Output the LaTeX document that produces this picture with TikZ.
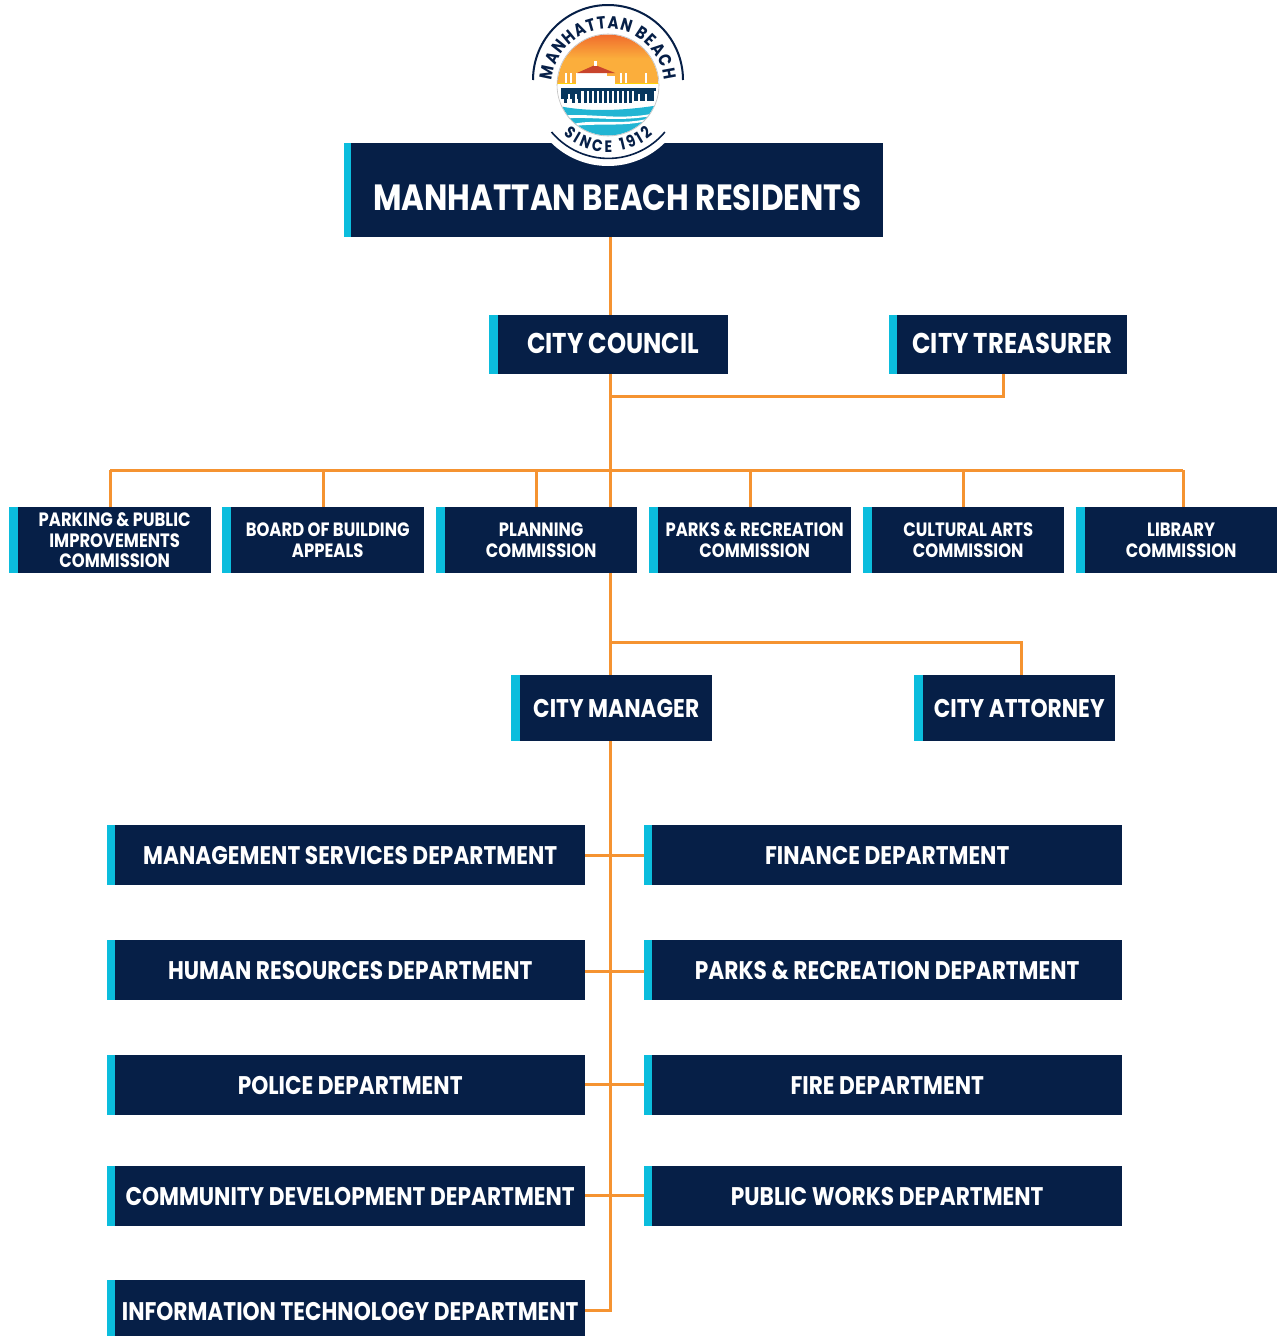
\documentclass[tikz,border=0pt]{standalone}
\usepackage{fontspec}
\usetikzlibrary{decorations.text}
\setmainfont[FakeStretch=0.85]{Poppins}
\definecolor{navy}{HTML}{061F47}
\definecolor{stripe}{HTML}{0BBDDD}
\definecolor{wire}{HTML}{F59331}
\definecolor{sunA}{HTML}{F0682C}
\definecolor{sunB}{HTML}{FBAE3C}
\definecolor{roof}{HTML}{C8442C}
\definecolor{sea}{HTML}{22B5D3}
\newcommand{\fs}[1]{\fontsize{#1}{#1}\selectfont\bfseries}
\newcommand{\dn}[2]{\raisebox{#1pt}{#2}}
\tikzset{
  orgbox/.style={fill=navy,text=white,inner sep=0pt,anchor=north west,align=center},
  xl/.style={font=\fontsize{36.5}{36.5}\selectfont\bfseries},
  lg/.style={font=\fontsize{28.6}{28.6}\selectfont\bfseries},
  md/.style={font=\fontsize{25.6}{25.6}\selectfont\bfseries},
  dp/.style={font=\fontsize{25.5}{25.5}\selectfont\bfseries},
  sm/.style={font=\fontsize{19.3}{20.5}\selectfont\bfseries},
  wirepath/.style={draw=wire,line width=3pt},
}
% name, x0 (stripe), navy x, y0, x1, y1, style, text
\newcommand{\org}[8]{%
  \fill[stripe] (#2,-#4) rectangle (#3,-#6);
  \node[orgbox,#7,minimum width={(#5-#3)*1pt},minimum height={(#6-#4)*1pt}] (#1) at (#3,-#4) {#8};
}
\begin{document}
\begin{tikzpicture}[x=1pt,y=1pt]
\useasboundingbox (0,0) rectangle (1278,-1336);
\fill[white] (0,0) rectangle (1278,-1336);
\coordinate (t) at (610,0);

\org{res}{344}{351}{143}{883}{237}{xl}{\smash{\raisebox{-20pt}{MANHATTAN BEACH RESIDENTS}}}
\org{council}{489}{498}{315}{728}{374}{lg}{\dn{2}{CITY COUNCIL}}
\org{treas}{889}{897}{315}{1127}{374}{lg}{\dn{2}{CITY TREASURER}}
\org{c1}{9}{18}{507}{211}{573}{sm}{PARKING \& PUBLIC\\IMPROVEMENTS\\COMMISSION}
\org{c2}{222}{231}{507}{424}{573}{sm}{BOARD OF BUILDING\\APPEALS}
\org{c3}{436}{445}{507}{637}{573}{sm}{PLANNING\\COMMISSION}
\org{c4}{649}{658}{507}{851}{573}{sm}{PARKS \& RECREATION\\COMMISSION}
\org{c5}{863}{872}{507}{1064}{573}{sm}{CULTURAL ARTS\\COMMISSION}
\org{c6}{1076}{1085}{507}{1277}{573}{sm}{LIBRARY\\COMMISSION}
\org{mgr}{511}{520}{675}{712}{741}{md}{CITY MANAGER}
\org{att}{914}{923}{675}{1115}{741}{md}{CITY ATTORNEY}
\org{d1}{107}{115}{825}{585}{885}{dp}{\dn{-1}{MANAGEMENT SERVICES DEPARTMENT}}
\org{d2}{107}{115}{940}{585}{1000}{dp}{\dn{-1}{HUMAN RESOURCES DEPARTMENT}}
\org{d3}{107}{115}{1055}{585}{1115}{dp}{\dn{-1}{POLICE DEPARTMENT}}
\org{d4}{107}{115}{1166}{585}{1226}{dp}{\dn{-1}{COMMUNITY DEVELOPMENT DEPARTMENT}}
\org{d5}{107}{115}{1280}{585}{1342}{dp}{INFORMATION TECHNOLOGY DEPARTMENT}
\org{e1}{644}{652}{825}{1122}{885}{dp}{\dn{-1}{FINANCE DEPARTMENT}}
\org{e2}{644}{652}{940}{1122}{1000}{dp}{\dn{-1}{PARKS \& RECREATION DEPARTMENT}}
\org{e3}{644}{652}{1055}{1122}{1115}{dp}{\dn{-1}{FIRE DEPARTMENT}}
\org{e4}{644}{652}{1166}{1122}{1226}{dp}{\dn{-1}{PUBLIC WORKS DEPARTMENT}}

\coordinate (j1) at (610,-396);
\coordinate (j2) at (610,-642);
\draw[wirepath] (res.south -| t) -- (council.north -| t);
\draw[wirepath] (council.south -| t) -- (c3.north -| t);
\draw[wirepath] (c3.south -| t) -- (mgr.north -| t);
\draw[wirepath] (t |- j1) -- (1003,-396) -- (treas.south -| 1003,0);
\draw[wirepath] (110,-470) -- (1183,-470);
\foreach \n/\xx in {c1/110,c2/323,c3/536,c4/750,c5/963,c6/1183}
  \draw[wirepath] (\xx,-470) -- (\n.north -| \xx,0);
\draw[wirepath] (t |- j2) -- (1021,-642) -- (att.north -| 1021,0);
\draw[wirepath] (mgr.south -| t) -- (610,-1310) -- (d5.east |- 0,-1310);
\draw[wirepath] (d1.east |- 0,-855) -- (e1.west |- 0,-855);
\draw[wirepath] (d2.east |- 0,-971) -- (e2.west |- 0,-971);
\draw[wirepath] (d3.east |- 0,-1084) -- (e3.west |- 0,-1084);
\draw[wirepath] (d4.east |- 0,-1195) -- (e4.west |- 0,-1195);
\foreach \ya/\yb in {825/885,940/1000,1055/1115,1166/1226}
  \fill[stripe] (644,-\ya) rectangle (652,-\yb);

% logo
\fill[white] (608,-85) circle (81);
\draw[navy,line width=2pt] (533,-80) arc (180:0:75);
\draw[navy,line width=1.6pt] (551.5,-132) arc (220:320:74);
\begin{scope}
  \clip (608,-85) circle (50.5);
  \shade[top color=sunA,bottom color=sunB,middle color=sunB] (550,-33) rectangle (666,-84);
  \fill[white] (550,-84) rectangle (666,-140);
  \fill[yellow!70!orange] (550,-82.5) rectangle (666,-84);
  \foreach \xx in {565,570,620,625,645}
    \fill[white] (\xx,-73) rectangle (\xx+1.5,-83);
  \fill[white] (576,-73) rectangle (607,-84);
  \fill[white] (607,-76) rectangle (615,-84);
  \fill[roof] (577,-73) -- (595,-65) -- (615,-73) -- cycle;
  \fill[white] (594,-61) rectangle (597,-66);
  % pier
  \fill[navy!85!stripe] (561,-88) rectangle (656,-91);
  \fill[navy!85!stripe] (561,-91) rectangle (580,-99);
  \fill[navy!85!stripe] (634,-91) rectangle (654,-101);
  \foreach \xx in {564,572,578,584,589,594,599,604,609,614,619,624,629}
    \fill[navy!85!stripe] (\xx,-90) rectangle (\xx+2.5,-103);
  \foreach \xx in {568,575,638,645}
    \fill[white] (\xx,-94) rectangle (\xx+2,-101);
  % sea
  \fill[sea] (550,-104) .. controls (580,-112) and (620,-112) .. (666,-104) -- (666,-140) -- (550,-140) -- cycle;
  \fill[white] (560,-116) .. controls (590,-112) and (620,-122) .. (660,-112) -- (660,-114) .. controls (620,-124) and (590,-115) .. (560,-119) -- cycle;
  \fill[white] (570,-125) .. controls (590,-118) and (625,-126) .. (650,-118) -- (650,-120) .. controls (625,-128) and (590,-122) .. (570,-127) -- cycle;
\end{scope}
\draw[gray!50,line width=.6pt] (608,-85) circle (51);
\path[decorate,decoration={text along path,text align={fit to path},
  text={|\color{navy}\fs{17.5}|MANHATTAN BEACH}}] (552.2,-80.1) arc (175:5:56);
\path[decorate,decoration={text along path,text align={fit to path},
  text={|\color{navy}\fs{16.5}|SINCE 1912}}] (563.2,-134.8) arc (228:312:67);
\end{tikzpicture}
\end{document}
